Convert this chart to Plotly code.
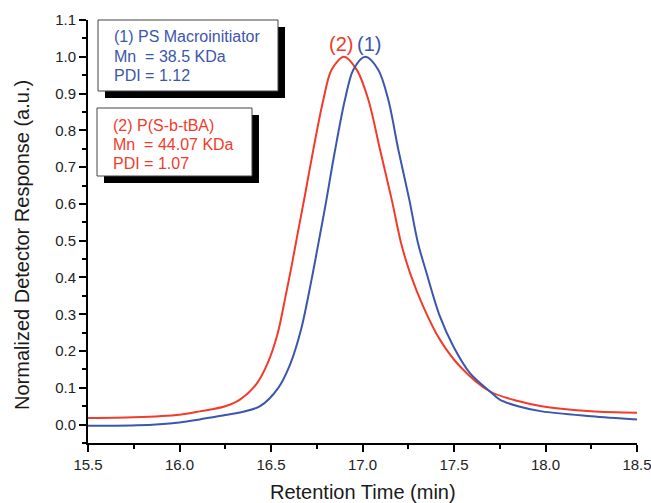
import plotly.graph_objects as go

# GPC traces: retention time (min) vs normalized detector response
rt_ps = [15.5, 15.77, 16.0, 16.11, 16.25, 16.33, 16.44, 16.54, 16.604, 16.665,
         16.72, 16.758, 16.799, 16.846, 16.904, 16.95, 17.015, 17.086, 17.141,
         17.196, 17.256, 17.303, 17.35, 17.423, 17.496, 17.587, 17.697, 17.75,
         17.85, 17.98, 18.25, 18.5]
resp_ps = [-0.003, -0.002, 0.006, 0.014, 0.026, 0.033, 0.05, 0.1, 0.163, 0.26,
           0.39, 0.49, 0.6, 0.735, 0.883, 0.965, 1.0, 0.965, 0.883,
           0.747, 0.611, 0.494, 0.412, 0.294, 0.213, 0.14, 0.09, 0.068,
           0.05, 0.036, 0.023, 0.014]

rt_blk = [15.5, 15.75, 16.0, 16.11, 16.25, 16.33, 16.42, 16.48, 16.535, 16.58,
          16.614, 16.644, 16.686, 16.731, 16.786, 16.831, 16.899, 16.968, 17.032,
          17.096, 17.16, 17.21, 17.26, 17.332, 17.423, 17.533, 17.697, 17.85,
          17.979, 18.25, 18.5]
resp_blk = [0.018, 0.02, 0.027, 0.036, 0.05, 0.068, 0.11, 0.165, 0.245, 0.35,
            0.435, 0.515, 0.625, 0.747, 0.883, 0.965, 1.0, 0.965, 0.883,
            0.747, 0.611, 0.495, 0.412, 0.321, 0.231, 0.158, 0.09, 0.064,
            0.05, 0.036, 0.032]

x_ticks = [15.5, 16.0, 16.5, 17.0, 17.5, 18.0, 18.5]
y_ticks = [0.0, 0.1, 0.2, 0.3, 0.4, 0.5, 0.6, 0.7, 0.8, 0.9, 1.0, 1.1]

info_ps = ["(1) PS Macroinitiator", "Mn&nbsp; = 38.5 KDa", "PDI = 1.12"]
info_blk = ["(2) P(S-b-tBA)", "Mn&nbsp; = 44.07 KDa", "PDI = 1.07"]

BLUE = "#3b56ad"
RED = "#f23b2b"
FONT = "Arial, Liberation Sans, sans-serif"

W, H = 651, 503
ML, MR, MT, MB = 88, 14, 20, 60
PW, PH = W - ML - MR, H - MT - MB


def px(x):
    return (x - ML) / PW


def py(y):
    return (H - MB - y) / PH


fig = go.Figure()
fig.add_trace(go.Scatter(x=rt_blk, y=resp_blk, mode="lines",
                         line=dict(color=RED, width=2, shape="spline", smoothing=0.9),
                         showlegend=False))
fig.add_trace(go.Scatter(x=rt_ps, y=resp_ps, mode="lines",
                         line=dict(color=BLUE, width=2, shape="spline", smoothing=0.9),
                         showlegend=False))

shapes = []
# info boxes with drop shadows: (left, top, right, bottom) in pixels
for (l, t, r, b) in [(98, 20, 278, 91), (97, 108, 252, 176)]:
    shapes.append(dict(type="rect", xref="paper", yref="paper",
                       x0=px(l + 7), x1=px(r + 7), y0=py(t + 7), y1=py(b + 7),
                       fillcolor="black", line=dict(width=0), layer="above"))
    shapes.append(dict(type="rect", xref="paper", yref="paper",
                       x0=px(l), x1=px(r), y0=py(t), y1=py(b),
                       fillcolor="white", line=dict(color="#444", width=1),
                       layer="above"))

annotations = []
for i, txt in enumerate(info_ps):
    annotations.append(dict(text=txt, xref="paper", yref="paper", x=px(112),
                            y=py(37 + 19.5 * i), xanchor="left", yanchor="middle",
                            showarrow=False, font=dict(family=FONT, size=16, color=BLUE)))
for i, txt in enumerate(info_blk):
    annotations.append(dict(text=txt, xref="paper", yref="paper", x=px(111),
                            y=py(125 + 19 * i), xanchor="left", yanchor="middle",
                            showarrow=False, font=dict(family=FONT, size=16, color=RED)))

annotations.append(dict(text="(2)", x=16.883, y=1.035, xref="x", yref="y",
                        xanchor="center", yanchor="middle",
                        showarrow=False, font=dict(family=FONT, size=20, color=RED)))
annotations.append(dict(text="(1)", x=17.036, y=1.035, xref="x", yref="y",
                        xanchor="center", yanchor="middle",
                        showarrow=False, font=dict(family=FONT, size=20, color=BLUE)))

annotations.append(dict(text="Normalized Detector Response (a.u.)", xref="paper",
                        yref="paper", x=px(22), y=py(245), textangle=-90,
                        xanchor="center", yanchor="middle",
                        showarrow=False, font=dict(family=FONT, size=20, color="#1a1a1a")))
annotations.append(dict(text="Retention Time (min)", xref="paper", yref="paper",
                        x=px(363), y=py(492), xanchor="center", yanchor="middle",
                        showarrow=False,
                        font=dict(family=FONT, size=20, color="#1a1a1a")))

axis_common = dict(showgrid=False, zeroline=False, showline=True, linecolor="black",
                   linewidth=2, ticks="outside", tickcolor="black", tickwidth=2,
                   ticklen=7, tickfont=dict(family=FONT, size=15, color="#222"),
                   mirror=False, ticklabeloverflow="allow", automargin=False)

fig.update_layout(
    width=W, height=H,
    margin=dict(l=ML, r=MR, t=MT, b=MB),
    paper_bgcolor="white", plot_bgcolor="white",
    shapes=shapes, annotations=annotations,
    xaxis=dict(range=[15.5, 18.5], tickvals=x_ticks,
               ticktext=[f"{v:.1f}" for v in x_ticks],
               minor=dict(dtick=0.25, tick0=15.5, ticks="outside", ticklen=4,
                          tickwidth=2, tickcolor="black"),
               **axis_common),
    yaxis=dict(range=[-0.05, 1.1], tickvals=y_ticks,
               ticktext=[f"{v:.1f}" for v in y_ticks],
               minor=dict(dtick=0.05, tick0=0, ticks="outside", ticklen=4,
                          tickwidth=2, tickcolor="black"),
               **axis_common),
)

fig.write_html("out.html")
